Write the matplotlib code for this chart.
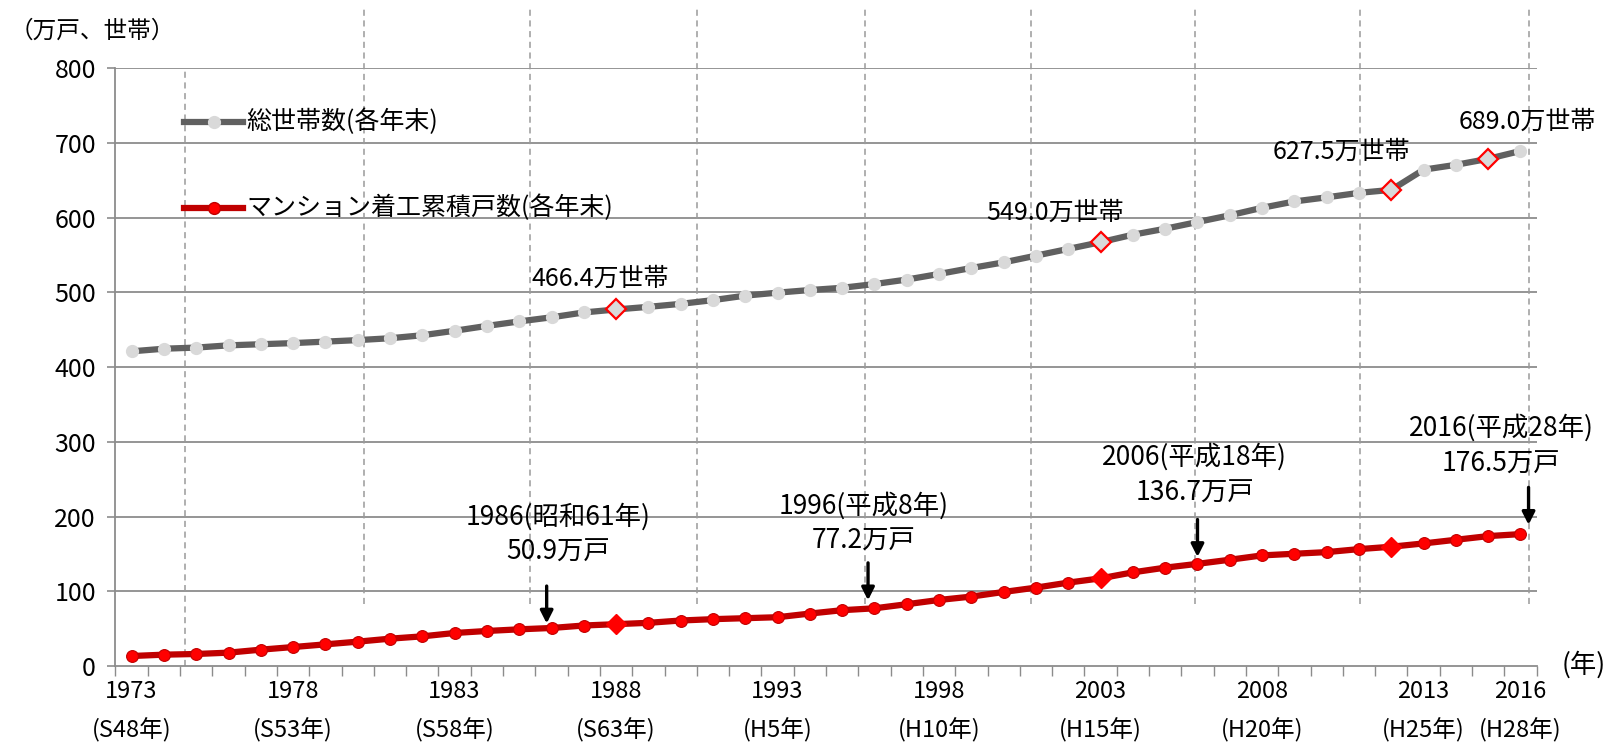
import matplotlib
matplotlib.use("Agg")
import matplotlib.pyplot as plt
import numpy as np

plt.rcParams['font.family'] = ['Noto Sans CJK JP', 'DejaVu Sans']

years = list(range(1973, 2017))
households = [421, 424.5, 426, 429, 430.5, 432, 434, 436, 438.5, 442.5,
              448.5, 455, 461, 466.5, 473, 477, 480.5, 484.5, 489.5, 495.5,
              499.5, 503, 506, 511, 517, 524.5, 532.5, 540, 549, 558,
              567, 577, 585, 594, 603, 613, 621.5, 627, 633, 637,
              664, 670.5, 678.5, 689.0]
condos = [13.4, 15.2, 16.1, 17.9, 21.9, 25.4, 29.0, 32.6, 36.6, 39.7,
          44.2, 46.9, 49.1, 50.9, 54.2, 56.0, 57.8, 60.9, 62.7, 64.0,
          65.3, 70.2, 74.7, 77.2, 82.7, 88.4, 92.9, 99.1, 104.9, 111.6,
          117.3, 125.3, 131.6, 136.7, 142.2, 148.0, 150.2, 152.4, 156.4, 159.6,
          164.0, 168.9, 173.8, 176.5]
hh_diamond_years = [1988, 2003, 2012, 2015]
condo_diamond_years = [1988, 2003, 2012]

tick_years = [1973, 1978, 1983, 1988, 1993, 1998, 2003, 2008, 2013, 2016]
tick_labels = ["1973\n(S48年)", "1978\n(S53年)", "1983\n(S58年)", "1988\n(S63年)",
               "1993\n(H5年)", "1998\n(H10年)", "2003\n(H15年)", "2008\n(H20年)",
               "2013\n(H25年)", "2016\n(H28年)"]
yticks = [0, 100, 200, 300, 400, 500, 600, 700, 800]

hh_labels = ["466.4万世帯", "549.0万世帯", "627.5万世帯", "689.0万世帯"]
condo_notes = [("1986(昭和61年)", "50.9万戸"), ("1996(平成8年)", "77.2万戸"),
               ("2006(平成18年)", "136.7万戸"), ("2016(平成28年)", "176.5万戸")]

legend_hh = "総世帯数(各年末)"
legend_condo = "マンション着工累積戸数(各年末)"

FS = 18

fig = plt.figure(figsize=(16.24, 7.45), dpi=100)
ax = fig.add_axes([0.0711, 0.106, 0.8751, 0.8027])

ax.set_xlim(1972.5, 2016.5)
ax.set_ylim(0, 800)

GRID = '#8c8c8c'
for v in yticks[1:]:
    ax.axhline(v, color=GRID, lw=1.3, zorder=1)

# vertical dashed separators
dash_x = [1974.66, 1980.2, 1985.33, 1990.51, 1995.7, 2000.83, 2005.92, 2011.04, 2016.26]
for i, xv in enumerate(dash_x):
    if i == 0:
        y0, y1 = 0, 800
    else:
        y0, y1 = 83, 883
    ax.plot([xv, xv], [y0, y1], color='#9a9a9a', lw=1.1, ls=(0, (4, 3)),
            clip_on=False, zorder=1)

# household line
hh_color = '#606060'
ax.plot(years, households, color=hh_color, lw=4.5, zorder=3)
mask_hh = [y not in hh_diamond_years for y in years]
ax.plot(np.array(years)[mask_hh], np.array(households)[mask_hh], ls='none',
        marker='o', ms=8.5, mfc='#d9d9d9', mec='#d9d9d9', zorder=4)
ax.plot(hh_diamond_years, [households[years.index(y)] for y in hh_diamond_years],
        ls='none', marker='D', ms=10.5, mfc='#d9d9d9', mec='#ff0000', mew=1.6, zorder=5)

# condo line
ax.plot(years, condos, color='#c00000', lw=4.5, zorder=3)
mask_c = [y not in condo_diamond_years for y in years]
ax.plot(np.array(years)[mask_c], np.array(condos)[mask_c], ls='none',
        marker='o', ms=8.5, mfc='#ff0000', mec='#c00000', mew=0.8, zorder=4)
ax.plot(condo_diamond_years, [condos[years.index(y)] for y in condo_diamond_years],
        ls='none', marker='D', ms=10.5, mfc='#ff0000', mec='#ff0000', zorder=5)

# legend (drawn manually)
lx0, lx1 = 1974.63, 1976.45
ax.plot([lx0, lx1], [728, 728], color=hh_color, lw=4.5, clip_on=False, zorder=6)
ax.plot([(lx0 + lx1) / 2], [728], marker='o', ms=8.5, mfc='#d9d9d9', mec='#d9d9d9', zorder=7)
ax.text(1976.55, 728, legend_hh, fontsize=FS, va='center', ha='left', zorder=7)
ax.plot([lx0, lx1], [613, 613], color='#c00000', lw=4.5, clip_on=False, zorder=6)
ax.plot([(lx0 + lx1) / 2], [613], marker='o', ms=8.5, mfc='#ff0000', mec='#c00000', zorder=7)
ax.text(1976.55, 613, legend_condo, fontsize=FS, va='center', ha='left', zorder=7)

# household labels
hh_pos = [(1987.5, 518.7), (2001.6, 606), (2010.46, 688), (2016.2, 728)]
for (xv, yv), t in zip(hh_pos, hh_labels):
    ax.text(xv, yv, t, fontsize=FS, ha='center', va='center', clip_on=False, zorder=7)

# condo notes
note_pos = [(1986.2, 199.7, 152.6), (1995.67, 213.6, 166.4),
            (2005.92, 280, 231.6), (2015.4, 319, 270.5)]
for (xv, y1, y2), (t1, t2) in zip(note_pos, condo_notes):
    ax.text(xv, y1, t1, fontsize=19, ha='center', va='center', clip_on=False, zorder=7)
    ax.text(xv, y2, t2, fontsize=19, ha='center', va='center', clip_on=False, zorder=7)

arrows = [(1985.85, 107, 57), (1995.8, 138, 88), (2006.0, 196, 146), (2016.25, 239, 189)]
for xv, ys, ye in arrows:
    ax.annotate('', xy=(xv, ye), xytext=(xv, ys),
                arrowprops=dict(arrowstyle='-|>,head_length=0.75,head_width=0.38',
                                color='black', lw=2.4, shrinkA=0, shrinkB=0),
                zorder=8, annotation_clip=False)

# axes styling
for s in ['top', 'right']:
    ax.spines[s].set_visible(False)
ax.spines['left'].set_color(GRID)
ax.spines['bottom'].set_color(GRID)
ax.spines['left'].set_linewidth(1.3)
ax.spines['bottom'].set_linewidth(1.3)

ax.set_yticks(yticks)
ax.set_yticklabels([str(v) for v in yticks], fontsize=18)
ax.tick_params(axis='y', length=6, color=GRID, width=1.2, pad=8)

ax.set_xticks(tick_years)
ax.set_xticklabels(tick_labels, fontsize=17, linespacing=1.75)
ax.set_xticks(np.arange(1972.5, 2016.6, 1.0), minor=True)
ax.tick_params(axis='x', which='major', length=0, pad=10)
ax.tick_params(axis='x', which='minor', length=7, color=GRID, width=1.0)

fig.text(0.006, 0.958, "（万戸、世帯）", fontsize=17, ha='left', va='center')
fig.text(0.975, 0.107, "(年)", fontsize=19, ha='center', va='center')

fig.savefig("out.png", dpi=100)
